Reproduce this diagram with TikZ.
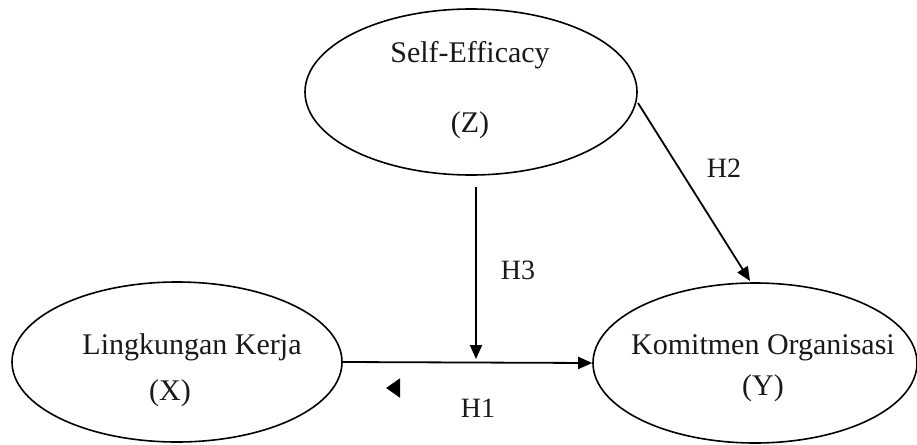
\documentclass[tikz,border=0pt]{standalone}
\usepackage{fontspec}
\setmainfont{Liberation Serif}
\usetikzlibrary{shapes.geometric,arrows.meta}
\begin{document}
\begin{tikzpicture}[x=1pt,y=-1pt,
  latent/.style={draw, line width=1.6pt, ellipse, inner sep=0pt},
  lbl/.style={inner sep=0pt, font=\fontsize{30}{32}\selectfont, text=black!90},
  hyp/.style={inner sep=0pt, font=\fontsize{28}{30}\selectfont, text=black!90},
  conn/.style={line width=1.8pt, -{Triangle[length=14pt,width=12pt]}}]
\useasboundingbox[fill=white] (0,0) rectangle (917,444);
% ellipses
\node[latent, minimum width=332pt, minimum height=166pt] (Z) at (471,92) {};
\node[latent, minimum width=330pt, minimum height=160pt] (X) at (177,362) {};
\node[latent, minimum width=324pt, minimum height=160pt] (Y) at (755,363) {};
% texts
\node[lbl] (zt) at (470,55) {Self-Efficacy};
\node[lbl] (zv) at (470,125) {(Z)};
\node[lbl] (xt) at (192,347) {Lingkungan Kerja};
\node[lbl] (xv) at (170,393) {(X)};
\node[lbl] (yt) at (763,348) {Komitmen Organisasi};
\node[lbl] (yv) at (763,388) {(Y)};
% connectors
\coordinate (h2s) at (638,103);
\coordinate (h2e) at (750,281);
\coordinate (h3s) at (476,187);
\coordinate (h3e) at (476,359);
\draw[conn] (X.east) -- (Y.west);
\draw[conn] (h3s) -- (h3e);
\draw[conn] (h2s) -- (h2e);
% labels
\node[hyp] (H1) at (478,408) {H1};
\node[hyp] (H2) at (724,168) {H2};
\node[hyp] (H3) at (518,270) {H3};
% small marker
\node[fill=black, isosceles triangle, isosceles triangle apex angle=70, shape border rotate=180, minimum height=14pt, inner sep=0pt] (mk) at (395,388) {};
\end{tikzpicture}
\end{document}
